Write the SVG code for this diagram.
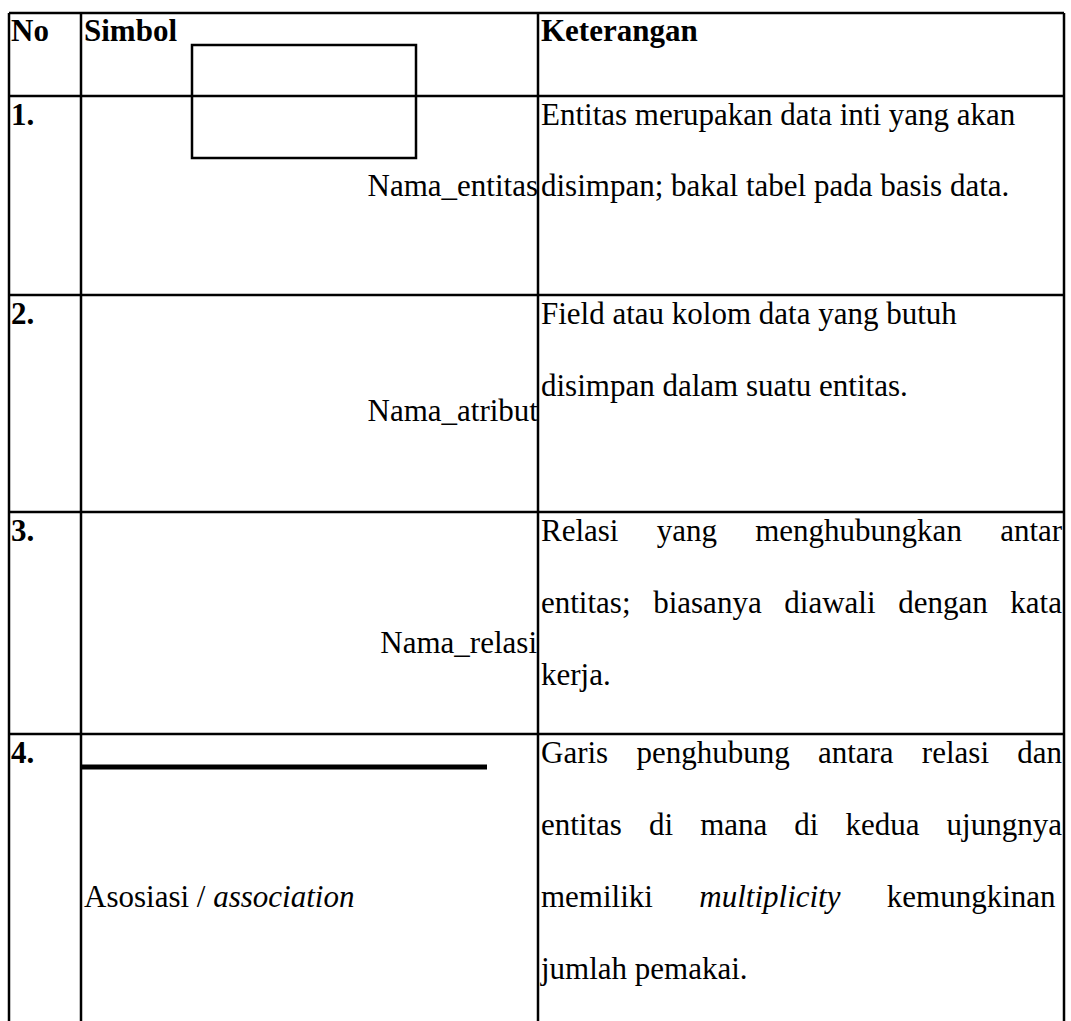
<svg xmlns="http://www.w3.org/2000/svg" width="1071" height="1021" viewBox="0 0 1071 1021">
<style>
text{font-family:"Liberation Serif","Times New Roman",serif;font-size:31px;fill:#000}
.b{font-weight:bold}
.r{text-anchor:end}
.grid{stroke:#000;stroke-width:2.5;fill:none}
</style>
<rect width="1071" height="1021" fill="#fff"/>
<g id="grid" class="grid">
<path d="M9,13H1064M9,96H1064M9,295H1064M9,512H1064M9,734H1064"/>
<path d="M9,13V1021M81,13V1021M538,13V1021M1064,13V1021"/>
</g>
<g id="header">
<text class="b" x="11" y="41">No</text>
<text class="b" x="84" y="41">Simbol</text>
<text class="b" x="541" y="41">Keterangan</text>
</g>
<g id="row1">
<text class="b" x="11" y="125">1.</text>
<rect x="192" y="45" width="224" height="113" fill="none" stroke="#000" stroke-width="2.5"/>
<text class="r" x="538" y="196">Nama_entitas</text>
<text x="541" y="125">Entitas merupakan data inti yang akan</text>
<text x="541" y="196">disimpan; bakal tabel pada basis data.</text>
</g>
<g id="row2">
<text class="b" x="11" y="324">2.</text>
<text class="r" x="538" y="421">Nama_atribut</text>
<text x="541" y="324">Field atau kolom data yang butuh</text>
<text x="541" y="396">disimpan dalam suatu entitas.</text>
</g>
<g id="row3">
<text class="b" x="11" y="541">3.</text>
<text class="r" x="537" y="653">Nama_relasi</text>
<text x="541" y="541" word-spacing="30.5">Relasi yang menghubungkan antar</text>
<text x="541" y="613" word-spacing="14.9">entitas; biasanya diawali dengan kata</text>
<text x="541" y="685">kerja.</text>
</g>
<g id="row4">
<text class="b" x="11" y="763">4.</text>
<text x="84" y="907">Asosiasi / <tspan font-style="italic">association</tspan></text>
<text x="541" y="763" word-spacing="20.5">Garis penghubung antara relasi dan</text>
<text x="541" y="835" word-spacing="19.3">entitas di mana di kedua ujungnya</text>
<text x="541" y="907" word-spacing="38.6">memiliki <tspan font-style="italic">multiplicity</tspan> kemungkinan</text>
<text x="541" y="979">jumlah pemakai.</text>
</g>
<g id="connectors">
<line x1="81" y1="767" x2="487" y2="767" stroke="#000" stroke-width="5"/>
</g>
</svg>
